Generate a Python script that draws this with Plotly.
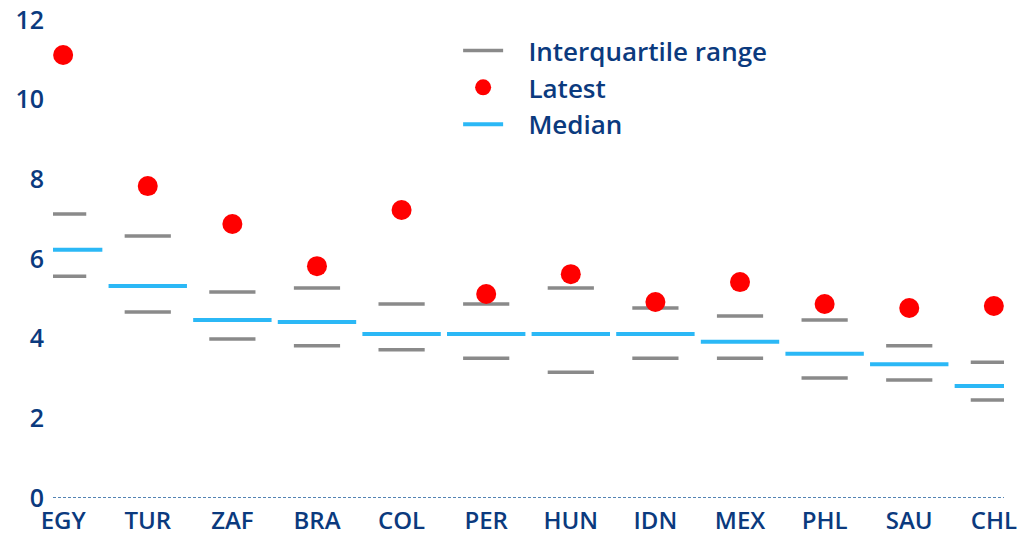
# =========================
# Dependencies
# =========================

import plotly.graph_objects as go

# =========================
# Data
# =========================

countries = ['EGY', 'TUR', 'ZAF', 'BRA', 'COL', 'PER', 'HUN', 'IDN', 'MEX', 'PHL', 'SAU', 'CHL']
latest = [11.12, 7.83, 6.88, 5.82, 7.23, 5.12, 5.62, 4.92, 5.42, 4.87, 4.77, 4.82]
iqr_upper = [7.13, 6.58, 5.17, 5.27, 4.87, 4.87, 5.27, 4.77, 4.57, 4.47, 3.82, 3.41]
median = [6.23, 5.32, 4.47, 4.42, 4.12, 4.12, 4.12, 4.12, 3.92, 3.62, 3.36, 2.81]
iqr_lower = [5.57, 4.67, 3.99, 3.82, 3.72, 3.51, 3.16, 3.51, 3.51, 3.01, 2.96, 2.46]
y_ticks = [0, 2, 4, 6, 8, 10, 12]

# Styles
GRAY = '#8a8a8a'
BLUE = '#2bb8f6'
RED = '#ff0000'
NAVY = '#0b3a7e'
FONT = 'Open Sans'
WEIGHT = 600
PAD = '\u00a0' * 3  # gap between legend symbol and text

# =========================
# Figure
# =========================

fig = go.Figure()

# IQR dashes (upper + lower)
for vals in (iqr_upper, iqr_lower):
    fig.add_trace(go.Scatter(
        x=countries, y=vals, mode='markers',
        marker=dict(symbol='line-ew', size=33, line=dict(width=3.5, color=GRAY)),
        showlegend=False, hoverinfo='x+y'
    ))

# Median
fig.add_trace(go.Scatter(
    x=countries, y=median, mode='markers',
    marker=dict(symbol='line-ew', size=56, line=dict(width=4, color=BLUE)),
    showlegend=False, hoverinfo='x+y'
))

# Latest
fig.add_trace(go.Scatter(
    x=countries, y=latest, mode='markers',
    marker=dict(symbol='circle', size=20, color=RED),
    showlegend=False, hoverinfo='x+y'
))

# Legend-only entries
fig.add_trace(go.Scatter(x=[None], y=[None], mode='lines', name=PAD + 'Interquartile range',
                         line=dict(color=GRAY, width=3.5)))
fig.add_trace(go.Scatter(x=[None], y=[None], mode='markers', name=PAD + 'Latest',
                         marker=dict(color=RED, size=16)))
fig.add_trace(go.Scatter(x=[None], y=[None], mode='lines', name=PAD + 'Median',
                         line=dict(color=BLUE, width=4)))

# Dashed baseline at zero
fig.add_shape(type='line', xref='paper', yref='y', x0=0, x1=1, y0=0, y1=0,
              line=dict(color='#1d5c9c', width=1.5, dash='3px,2px'))

fig.update_layout(
    width=1030, height=535,
    margin=dict(l=53, r=26, t=20, b=37),
    paper_bgcolor='white',
    plot_bgcolor='white',
    font=dict(family=FONT, size=26, color=NAVY, weight=WEIGHT),
    legend=dict(
        x=0.426, y=0.985, xanchor='left', yanchor='top',
        bgcolor='rgba(0,0,0,0)', itemwidth=40,
        font=dict(family=FONT, size=26, color=NAVY, weight=WEIGHT),
        tracegroupgap=0
    ),
    xaxis=dict(
        type='category', range=[-0.12, 11.12], automargin=False,
        showgrid=False, zeroline=False, showline=False,
        ticks='outside', ticklen=1, tickcolor='rgba(0,0,0,0)',
        tickfont=dict(family=FONT, size=24, color=NAVY, weight=WEIGHT)
    ),
    yaxis=dict(
        range=[0, 12], tickvals=y_ticks, automargin=False,
        showgrid=False, zeroline=False, showline=False,
        ticks='outside', ticklen=3, tickcolor='rgba(0,0,0,0)',
        tickfont=dict(family=FONT, size=25, color=NAVY, weight=WEIGHT)
    )
)

# Drop the browser's default page margin so the figure sits at (0, 0)
fig.write_html('out.html', config={'displayModeBar': False},
               post_script="document.body.style.margin='0';")
